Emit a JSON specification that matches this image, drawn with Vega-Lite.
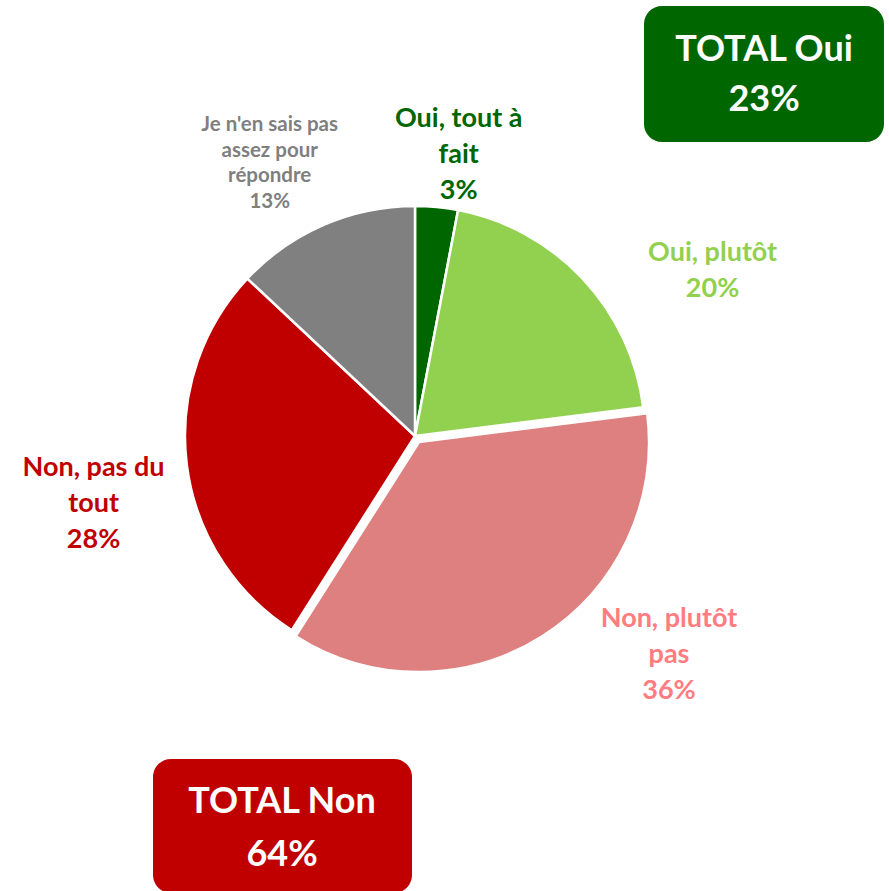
{
  "$schema": "https://vega.github.io/schema/vega-lite/v6.json",
  "width": 889,
  "height": 891,
  "autosize": {"type": "none"},
  "padding": 0,
  "background": "white",
  "config": {"view": {"stroke": null}, "font": "Lato"},
  "datasets": {
    "slices": [
      {"cat": "Oui, tout à fait", "order": 1, "value": 3, "label": ["Oui, tout à", "fait", "3%"]},
      {"cat": "Oui, plutôt", "order": 2, "value": 20, "label": ["Oui, plutôt", "20%"]},
      {"cat": "Non, plutôt pas", "order": 3, "value": 36, "label": ["Non, plutôt", "pas", "36%"]},
      {"cat": "Non, pas du tout", "order": 4, "value": 28, "label": ["Non, pas du", "tout", "28%"]},
      {"cat": "Je n'en sais pas assez pour répondre", "order": 5, "value": 13, "label": ["Je n'en sais pas", "assez pour", "répondre", "13%"]}
    ],
    "totals": [
      {"group": "Oui", "label": ["TOTAL Oui", "23%"]},
      {"group": "Non", "label": ["TOTAL Non", "64%"]}
    ]
  },
  "data": {"name": "slices"},
  "transform": [
    {"stack": "value", "groupby": [], "sort": [{"field": "order"}], "as": ["start", "end"]},
    {"calculate": "(datum.start + datum.end) / 2", "as": "mid"}
  ],
  "layer": [
    {
      "transform": [{"filter": "datum.order !== 3"}],
      "mark": {"type": "arc", "outerRadius": 230, "stroke": "white", "strokeWidth": 2.5},
      "encoding": {
        "x": {"datum": 415, "type": "quantitative", "scale": {"domain": [0, 889], "range": [0, 889], "nice": false, "zero": false}, "axis": null},
        "y": {"datum": 436, "type": "quantitative", "scale": {"domain": [0, 891], "range": [0, 891], "nice": false, "zero": false}, "axis": null},
        "theta": {"field": "start", "type": "quantitative", "stack": null, "scale": {"domain": [0, 100]}},
        "theta2": {"field": "end"},
        "color": {
          "field": "cat", "type": "nominal", "legend": null,
          "scale": {
            "domain": ["Oui, tout à fait", "Oui, plutôt", "Non, plutôt pas", "Non, pas du tout", "Je n'en sais pas assez pour répondre"],
            "range": ["#006600", "#92D050", "#DF8080", "#C00000", "#808080"]
          }
        }
      }
    },
    {
      "transform": [{"filter": "datum.order === 3"}],
      "mark": {"type": "arc", "outerRadius": 230, "stroke": "white", "strokeWidth": 2.5},
      "encoding": {
        "x": {"datum": 419, "type": "quantitative"},
        "y": {"datum": 442, "type": "quantitative"},
        "theta": {"field": "start", "type": "quantitative", "stack": null},
        "theta2": {"field": "end"},
        "color": {"field": "cat", "type": "nominal", "legend": null}
      }
    },
    {
      "transform": [{"filter": "datum.order === 1"}],
      "mark": {"type": "text", "fontSize": 27, "fontWeight": "bold", "color": "#006600", "lineHeight": 36, "align": "center", "baseline": "middle", "dx": 17, "dy": -34},
      "encoding": {
        "x": {"datum": 415, "type": "quantitative"},
        "y": {"datum": 436, "type": "quantitative"},
        "theta": {"field": "mid", "type": "quantitative", "stack": null},
        "radius": {"value": 284},
        "text": {"field": "label"}
      }
    },
    {
      "transform": [{"filter": "datum.order === 2"}],
      "mark": {"type": "text", "fontSize": 27, "fontWeight": "bold", "color": "#92D050", "lineHeight": 36, "align": "center", "baseline": "middle", "dx": 57, "dy": 43},
      "encoding": {
        "x": {"datum": 415, "type": "quantitative"},
        "y": {"datum": 436, "type": "quantitative"},
        "theta": {"field": "mid", "type": "quantitative", "stack": null},
        "radius": {"value": 330},
        "text": {"field": "label"}
      }
    },
    {
      "transform": [{"filter": "datum.order === 3"}],
      "mark": {"type": "text", "fontSize": 27, "fontWeight": "bold", "color": "#FF7C80", "lineHeight": 36, "align": "center", "baseline": "middle", "dx": 82, "dy": -88},
      "encoding": {
        "x": {"datum": 415, "type": "quantitative"},
        "y": {"datum": 436, "type": "quantitative"},
        "theta": {"field": "mid", "type": "quantitative", "stack": null},
        "radius": {"value": 321},
        "text": {"field": "label"}
      }
    },
    {
      "transform": [{"filter": "datum.order === 4"}],
      "mark": {"type": "text", "fontSize": 27, "fontWeight": "bold", "color": "#C00000", "lineHeight": 36, "align": "center", "baseline": "middle", "dx": 3, "dy": -9},
      "encoding": {
        "x": {"datum": 415, "type": "quantitative"},
        "y": {"datum": 436, "type": "quantitative"},
        "theta": {"field": "mid", "type": "quantitative", "stack": null},
        "radius": {"value": 327},
        "text": {"field": "label"}
      }
    },
    {
      "transform": [{"filter": "datum.order === 5"}],
      "mark": {"type": "text", "fontSize": 20.5, "fontWeight": "bold", "color": "#7F7F7F", "lineHeight": 25.5, "align": "center", "baseline": "middle", "dx": -23, "dy": -28},
      "encoding": {
        "x": {"datum": 415, "type": "quantitative"},
        "y": {"datum": 436, "type": "quantitative"},
        "theta": {"field": "mid", "type": "quantitative", "stack": null},
        "radius": {"value": 308},
        "text": {"field": "label"}
      }
    },
    {
      "data": {"name": "totals"},
      "transform": [{"filter": "datum.group === 'Oui'"}],
      "mark": {"type": "rect", "cornerRadius": 18, "color": "#006600"},
      "encoding": {
        "x": {"datum": 644, "type": "quantitative"},
        "x2": {"datum": 884},
        "y": {"datum": 6, "type": "quantitative"},
        "y2": {"datum": 142}
      }
    },
    {
      "data": {"name": "totals"},
      "transform": [{"filter": "datum.group === 'Oui'"}],
      "mark": {"type": "text", "fontSize": 36, "fontWeight": "bold", "color": "white", "lineHeight": 50, "align": "center", "baseline": "middle"},
      "encoding": {
        "x": {"datum": 764, "type": "quantitative"},
        "y": {"datum": 50, "type": "quantitative"},
        "text": {"field": "label"}
      }
    },
    {
      "data": {"name": "totals"},
      "transform": [{"filter": "datum.group === 'Non'"}],
      "mark": {"type": "rect", "cornerRadius": 18, "color": "#C00000"},
      "encoding": {
        "x": {"datum": 153, "type": "quantitative"},
        "x2": {"datum": 412},
        "y": {"datum": 759, "type": "quantitative"},
        "y2": {"datum": 893}
      }
    },
    {
      "data": {"name": "totals"},
      "transform": [{"filter": "datum.group === 'Non'"}],
      "mark": {"type": "text", "fontSize": 36, "fontWeight": "bold", "color": "white", "lineHeight": 53, "align": "center", "baseline": "middle"},
      "encoding": {
        "x": {"datum": 282, "type": "quantitative"},
        "y": {"datum": 802, "type": "quantitative"},
        "text": {"field": "label"}
      }
    }
  ]
}
